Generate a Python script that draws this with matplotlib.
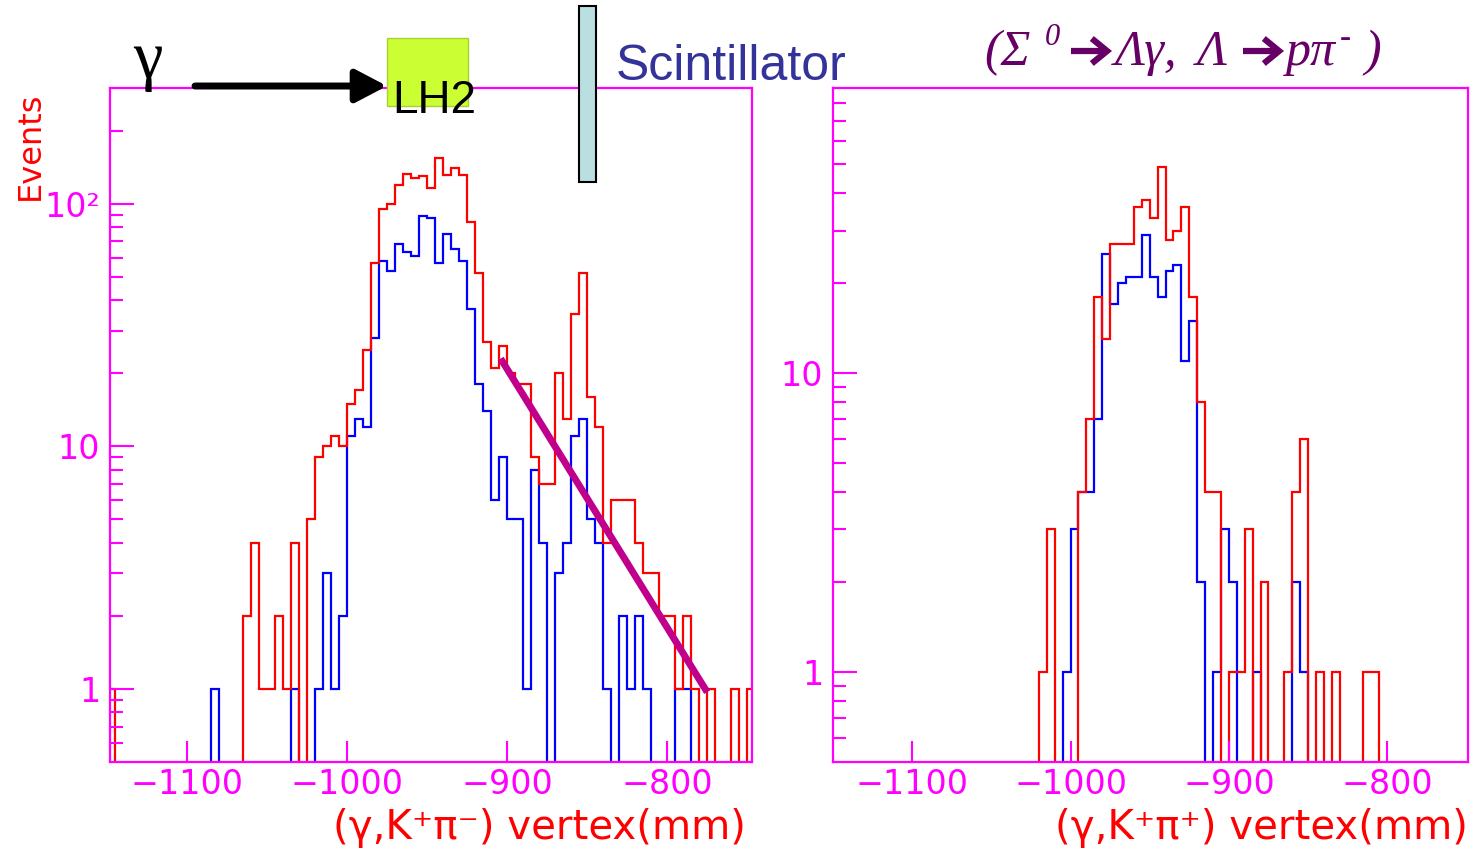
import numpy as np
import matplotlib
matplotlib.use('Agg')
import matplotlib.pyplot as plt
from matplotlib.patches import Rectangle, FancyArrowPatch
from matplotlib.ticker import FixedLocator, NullFormatter, NullLocator

# vertex histograms: 5 mm bins, first lower edge at -1150 mm
bin_lo = -1150
bin_w = 5

# (gamma,K+pi-) vertex
km_red = [1, 0, 0, 0, 0, 0, 0, 0, 0, 0,
          0, 0, 0, 0, 0, 0, 0, 2, 4, 1,
          1, 2, 1, 4, 0, 5, 9, 10, 11, 10,
          15, 17, 25, 57, 95, 100, 119, 133, 128, 130,
          116, 155, 132, 141, 132, 84, 52, 27, 21, 26,
          20, 18, 18, 9, 7, 7, 20, 13, 35, 52,
          16, 12, 4, 6, 6, 6, 4, 3, 3, 2,
          2, 1, 2, 1, 0, 1, 0, 0, 1, 0,
          1]
km_blue = [0, 0, 0, 0, 0, 0, 0, 0, 0, 0,
           0, 0, 0, 1, 0, 0, 0, 0, 0, 0,
           0, 0, 0, 1, 0, 0, 1, 3, 1, 2,
           11, 13, 12, 28, 58, 53, 68, 63, 61, 89,
           87, 57, 75, 65, 58, 37, 18, 14, 6, 9,
           5, 5, 1, 8, 4, 0, 3, 4, 11, 13,
           5, 4, 1, 0, 2, 1, 2, 1, 0, 0,
           0, 1, 1, 0, 0, 0, 0, 0, 0, 0,
           0]

# (gamma,K+pi+) vertex
kp_red = [0, 0, 0, 0, 0, 0, 0, 0, 0, 0,
          0, 0, 0, 0, 0, 0, 0, 0, 0, 0,
          0, 0, 0, 0, 0, 0, 1, 3, 0, 0,
          0, 4, 7, 18, 13, 27, 27, 27, 36, 38,
          33, 49, 28, 30, 36, 18, 8, 4, 4, 0,
          1, 1, 3, 0, 2, 0, 0, 1, 4, 6,
          0, 1, 0, 1, 0, 0, 0, 1, 1, 0,
          0, 0, 0, 0, 0, 0, 0, 0, 0, 0,
          0]
kp_blue = [0, 0, 0, 0, 0, 0, 0, 0, 0, 0,
           0, 0, 0, 0, 0, 0, 0, 0, 0, 0,
           0, 0, 0, 0, 0, 0, 0, 0, 0, 1,
           3, 4, 4, 7, 25, 17, 20, 21, 21, 29,
           21, 18, 22, 23, 11, 15, 2, 0, 1, 3,
           2, 0, 0, 1, 0, 0, 0, 0, 2, 1,
           0, 0, 0, 0, 0, 0, 0, 0, 0, 0,
           0, 0, 0, 0, 0, 0, 0, 0, 0, 0,
           0]

x_ticks = [-1100, -1000, -900, -800]

# straight line laid over the K+pi- tail
tail_x = [-904, -775]
tail_y = [23, 0.97]

MAG = '#FF00FF'
W, H = 1471, 850
fig = plt.figure(figsize=(W / 100, H / 100), dpi=100)


def fx(px):
    return px / W


def fy(py):
    return 1 - py / H


def frame(l, t, r, b):
    return [fx(l), fy(b), (r - l) / W, (b - t) / H]


edges = bin_lo + bin_w * np.arange(len(km_red) + 1)


def draw_panel(ax, red, blue, xlim, ylim, majors, labels):
    for counts, col in ((blue, '#0000FF'), (red, '#FF0000')):
        c = np.asarray(counts, dtype=float)
        c[c <= 0] = 1e-3
        ax.stairs(c, edges, baseline=1e-3, color=col, lw=1.6)
    ax.set_yscale('log')
    ax.set_xlim(*xlim)
    ax.set_ylim(*ylim)

    minors = [m * 10.0 ** k for k in range(-1, 3) for m in range(2, 10)]
    minors = [v for v in minors if ylim[0] < v < ylim[1]]
    ax.yaxis.set_major_locator(FixedLocator(majors))
    ax.yaxis.set_minor_locator(FixedLocator(minors))
    ax.yaxis.set_minor_formatter(NullFormatter())
    ax.set_yticklabels(labels)
    ax.set_xticks(x_ticks)
    ax.xaxis.set_minor_locator(NullLocator())

    ax.tick_params(axis='y', which='major', direction='in', length=17,
                   width=1.5, color=MAG, labelcolor=MAG, labelsize=24, pad=7)
    ax.tick_params(axis='y', which='minor', direction='in', length=9.5,
                   width=1.5, color=MAG)
    ax.tick_params(axis='x', which='major', direction='in', length=15,
                   width=1.5, color=MAG, labelcolor=MAG, labelsize=24, pad=4)
    for s in ax.spines.values():
        s.set_color(MAG)
        s.set_linewidth(1.6)


ax1 = fig.add_axes(frame(110, 88, 752, 762))
ax2 = fig.add_axes(frame(833, 88, 1468, 762))

draw_panel(ax1, km_red, km_blue, (-1148, -747), (0.5, 300),
           [1, 10, 100], ['1', '10', '10²'])
draw_panel(ax2, kp_red, kp_blue, (-1150, -749), (0.5, 90),
           [1, 10], ['1', '10'])

ax1.plot(tail_x, tail_y, color='#C0008C', lw=5, solid_capstyle='butt', zorder=4)

# axis titles
fig.text(fx(30), fy(146), 'Events', color='#FF0000', fontsize=23,
         rotation=90, ha='center', va='center')
fig.text(fx(746), fy(828), '(γ,K⁺π⁻) vertex(mm)', color='#FF0000',
         fontsize=29, ha='right', va='center')
fig.text(fx(1468), fy(828), '(γ,K⁺π⁺) vertex(mm)', color='#FF0000',
         fontsize=29, ha='right', va='center')

# beam / target / scintillator sketch
fig.text(fx(148), fy(78), 'γ', family='Liberation Serif', fontsize=48,
         ha='center', va='baseline')
fig.add_artist(FancyArrowPatch((fx(195), fy(86)), (fx(387), fy(86)),
                               transform=fig.transFigure,
                               arrowstyle='-|>,head_length=19,head_width=10',
                               mutation_scale=1, lw=5, color='black',
                               shrinkA=0, shrinkB=0, zorder=2))
fig.add_artist(Rectangle((fx(387), fy(106)), 81 / W, 68 / H,
                         transform=fig.transFigure, fc='#CCFF33',
                         ec='#A8D030', lw=1, zorder=2))
fig.text(fx(392), fy(113), 'LH2', family='Liberation Sans', fontsize=33,
         va='baseline', zorder=5)
fig.add_artist(Rectangle((fx(579), fy(182)), 17 / W, 176 / H,
                         transform=fig.transFigure, fc='#B9DFE0',
                         ec='black', lw=1.5, zorder=2))
fig.text(fx(616), fy(80), 'Scintillator', family='Liberation Sans',
         fontsize=36, color='#333399', va='baseline')

# decay chain label
PUR = '#660066'
serif_it = dict(family='Liberation Serif', style='italic', color=PUR)
title_parts = [(984, 65, 36, '(Σ'), (1045, 45, 22, '0'),
               (1115, 65, 36, 'Λγ,'), (1197, 65, 36, 'Λ'),
               (1286, 65, 36, 'pπ'), (1340, 47, 24, '-'),
               (1364, 65, 36, ')')]
for px, py, size, s in title_parts:
    fig.text(fx(px), fy(py), s, fontsize=size, va='baseline', **serif_it)
for x0, x1 in ((1071, 1112), (1243, 1284)):
    fig.add_artist(FancyArrowPatch((fx(x0), fy(51)), (fx(x1), fy(51)),
                                   transform=fig.transFigure,
                                   arrowstyle='->,head_length=11,head_width=9',
                                   mutation_scale=1, lw=4.5, color=PUR,
                                   capstyle='butt', joinstyle='miter',
                                   shrinkA=0, shrinkB=0))

fig.savefig('out.png', dpi=100)
